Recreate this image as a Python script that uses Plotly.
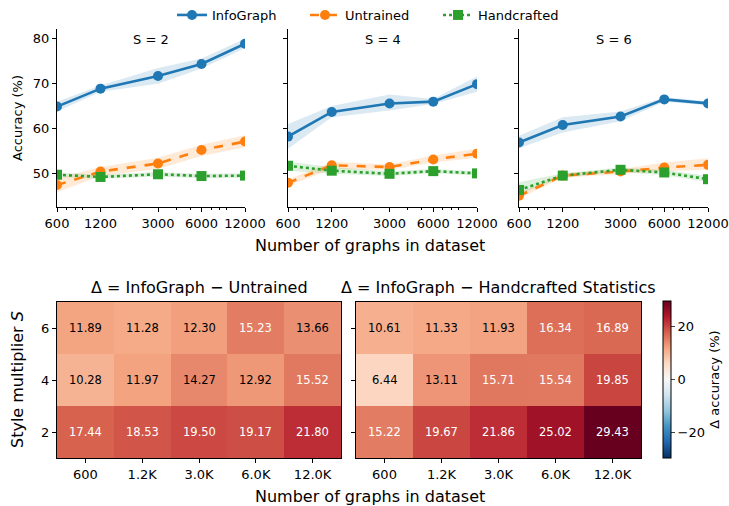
import plotly.graph_objects as go
import numpy as np

# ---------------- data ----------------
n_graphs = [600, 1200, 3000, 6000, 12000]
styles = [2, 4, 6]

# line panels: mean accuracy (%) and band (lower/upper)
info_s2 = [64.9, 68.9, 71.7, 74.4, 78.9]
info_s2_lo = [63.8, 68.2, 70.0, 73.4, 77.9]
info_s2_hi = [66.0, 69.6, 73.5, 75.6, 80.0]
untr_s2 = [47.4, 50.4, 52.2, 55.2, 57.1]
untr_s2_lo = [45.8, 49.4, 51.0, 53.9, 55.8]
untr_s2_hi = [48.9, 51.4, 53.5, 56.4, 58.5]
hand_s2 = [49.7, 49.2, 49.8, 49.4, 49.5]
hand_s2_lo = [49.2, 48.8, 49.3, 48.9, 49.0]
hand_s2_hi = [50.2, 49.7, 50.3, 49.9, 50.0]

info_s4 = [58.2, 63.7, 65.6, 66.0, 69.9]
info_s4_lo = [55.5, 62.5, 64.0, 65.5, 68.2]
info_s4_hi = [61.0, 65.0, 67.6, 66.6, 71.6]
untr_s4 = [47.9, 51.8, 51.4, 53.1, 54.4]
untr_s4_lo = [47.2, 51.0, 50.8, 52.4, 53.5]
untr_s4_hi = [48.6, 52.6, 52.0, 54.0, 55.5]
hand_s4 = [51.7, 50.6, 49.9, 50.5, 50.0]
hand_s4_lo = [50.6, 49.9, 49.4, 50.0, 49.5]
hand_s4_hi = [52.6, 51.4, 50.5, 51.0, 50.5]

info_s6 = [56.9, 60.8, 62.7, 66.5, 65.6]
info_s6_lo = [55.6, 59.1, 61.6, 66.0, 65.2]
info_s6_hi = [58.4, 62.5, 63.8, 67.0, 66.1]
untr_s6 = [45.0, 49.5, 50.4, 51.3, 51.9]
untr_s6_lo = [44.4, 49.0, 49.9, 50.5, 50.8]
untr_s6_hi = [45.6, 50.0, 51.0, 52.4, 53.4]
hand_s6 = [46.3, 49.5, 50.8, 50.2, 48.7]
hand_s6_lo = [45.4, 49.0, 50.3, 49.6, 48.1]
hand_s6_hi = [48.0, 50.0, 51.3, 50.8, 49.4]

# heatmaps: rows = S (2, 4, 6), cols = n_graphs
delta_untrained = [
    [17.44, 18.53, 19.50, 19.17, 21.80],
    [10.28, 11.97, 14.27, 12.92, 15.52],
    [11.89, 11.28, 12.30, 15.23, 13.66],
]
delta_handcrafted = [
    [15.22, 19.67, 21.86, 25.02, 29.43],
    [6.44, 13.11, 15.71, 15.54, 19.85],
    [10.61, 11.33, 11.93, 16.34, 16.89],
]
heat_xlabels = ["600", "1.2K", "3.0K", "6.0K", "12.0K"]
y_ticks_acc = [50, 60, 70, 80]
minor_ticks = [700, 800, 900, 2000, 4000, 5000, 7000, 8000, 9000]

# ---------------- styling ----------------
W, H = 729, 506
FONT = "DejaVu Sans"
C_INFO, C_UNTR, C_HAND = "#1f77b4", "#ff7f0e", "#2ca02c"
TICK = 13

def px_x(p):
    return p / W

def px_y(p):
    return 1 - p / H

def rgba(hexc, a):
    h = hexc.lstrip("#")
    r, g, b = int(h[0:2], 16), int(h[2:4], 16), int(h[4:6], 16)
    return f"rgba({r},{g},{b},{a})"

def text_at(x, y, text, size, angle=0):
    fig.add_annotation(x=px_x(x), y=px_y(y), xref="paper", yref="paper",
                       xanchor="center", yanchor="middle", text=text, showarrow=False,
                       textangle=angle, font=dict(size=size, family=FONT, color="black"))

fig = go.Figure()

panels = [
    ("S = 2", (info_s2, info_s2_lo, info_s2_hi), (untr_s2, untr_s2_lo, untr_s2_hi), (hand_s2, hand_s2_lo, hand_s2_hi)),
    ("S = 4", (info_s4, info_s4_lo, info_s4_hi), (untr_s4, untr_s4_lo, untr_s4_hi), (hand_s4, hand_s4_lo, hand_s4_hi)),
    ("S = 6", (info_s6, info_s6_lo, info_s6_hi), (untr_s6, untr_s6_lo, untr_s6_hi), (hand_s6, hand_s6_lo, hand_s6_hi)),
]
x_domains = [(57, 245), (288, 477), (519, 708)]
series_style = [
    ("InfoGraph", C_INFO, "solid", "circle"),
    ("Untrained", C_UNTR, "dash", "circle"),
    ("Handcrafted", C_HAND, "dot", "square"),
]

for i, (title, *sers) in enumerate(panels):
    xa = "x" if i == 0 else f"x{i+1}"
    ya = "y" if i == 0 else f"y{i+1}"
    for (name, col, dash, sym), (m, lo, hi) in zip(series_style, sers):
        fig.add_trace(go.Scatter(x=n_graphs + n_graphs[::-1], y=hi + lo[::-1], mode="lines",
                                 fill="toself", fillcolor=rgba(col, 0.16), line=dict(width=0),
                                 hoverinfo="skip", showlegend=False, xaxis=xa, yaxis=ya))
    for (name, col, dash, sym), (m, lo, hi) in zip(series_style, sers):
        fig.add_trace(go.Scatter(x=n_graphs, y=m, mode="lines+markers", name=name,
                                 line=dict(color=col, width=2.6, dash=dash),
                                 marker=dict(symbol=sym, size=10, color=col),
                                 showlegend=(i == 0), xaxis=xa, yaxis=ya))
    d0, d1 = x_domains[i]
    axis_common = dict(showline=True, linecolor="black", linewidth=1, ticks="outside",
                       ticklen=4, tickcolor="black", showgrid=False, zeroline=False,
                       automargin=False,
                       tickfont=dict(size=TICK, family=FONT, color="black"))
    fig.layout[("xaxis" if i == 0 else f"xaxis{i+1}")] = dict(
        domain=[px_x(d0), px_x(d1)], anchor=ya, type="log",
        range=[np.log10(600), np.log10(12000)], tickvals=n_graphs,
        ticktext=[str(v) for v in n_graphs],
        minor=dict(tickvals=minor_ticks, ticks="outside", ticklen=2, tickcolor="black"),
        **axis_common)
    fig.layout[("yaxis" if i == 0 else f"yaxis{i+1}")] = dict(
        domain=[px_y(207), px_y(29)], anchor=xa, range=[42.5, 82.2],
        tickvals=y_ticks_acc, showticklabels=(i == 0), **axis_common)
    text_at((d0 + d1) / 2, 39, title, 13)

# ---------------- heatmaps ----------------
colorscale_vals = ["#053061", "#2166ac", "#4393c3", "#92c5de", "#d1e5f0", "#f7f7f7",
                   "#fddbc7", "#f4a582", "#d6604d", "#b2182b", "#67001f"]
colorscale = [[k / 10, c] for k, c in enumerate(colorscale_vals)]
vmax = max(max(max(r) for r in delta_untrained), max(max(r) for r in delta_handcrafted))

heat_domains = [(57, 341), (356, 641)]
heat_titles = ["Δ = InfoGraph − Untrained", "Δ = InfoGraph − Handcrafted Statistics"]
for j in range(2):
    z = [delta_untrained, delta_handcrafted][j]
    k = 4 + j
    xa, ya = f"x{k}", f"y{k}"
    fig.add_trace(go.Heatmap(z=z, x=list(range(len(n_graphs))), y=list(range(len(styles))),
                             colorscale=colorscale, zmin=-vmax, zmax=vmax,
                             showscale=(j == 1), xaxis=xa, yaxis=ya, hoverinfo="skip",
                             colorbar=dict(x=px_x(663), xanchor="left", thickness=8,
                                           xpad=0, ypad=0,
                                           len=157 / H, lenmode="fraction",
                                           y=(px_y(458) + px_y(301)) / 2, yanchor="middle",
                                           outlinewidth=1, outlinecolor="black",
                                           ticks="outside", ticklen=4, tickvals=[-20, 0, 20],
                                           ticktext=["−20", "0", "20"],
                                           tickfont=dict(size=TICK, family=FONT, color="black"),
                                           title=dict(text="Δ accuracy (%)", side="right",
                                                      font=dict(size=13, family=FONT, color="black")))))
    for r, row in enumerate(z):
        for c, v in enumerate(row):
            fig.add_annotation(x=c, y=r, xref=xa, yref=ya, text=f"{v:.2f}", showarrow=False,
                               font=dict(size=11.5, family=FONT,
                                         color="white" if v > 15 else "black"))
    d0, d1 = heat_domains[j]
    box = dict(showline=True, linecolor="black", linewidth=1, mirror=True, ticks="outside",
               ticklen=4, tickcolor="black", showgrid=False, zeroline=False, automargin=False,
               tickfont=dict(size=TICK, family=FONT, color="black"))
    fig.layout[f"xaxis{k}"] = dict(domain=[px_x(d0), px_x(d1)], anchor=ya,
                                   range=[-0.5, 4.5], tickvals=list(range(5)),
                                   ticktext=heat_xlabels, **box)
    fig.layout[f"yaxis{k}"] = dict(domain=[px_y(458), px_y(302)], anchor=xa,
                                   range=[-0.5, 2.5], tickvals=list(range(3)),
                                   ticktext=[str(s) for s in styles],
                                   showticklabels=(j == 0), **box)
    text_at((d0 + d1) / 2, 287, heat_titles[j], 16)

# ---------------- axis titles ----------------
text_at(370, 245, "Number of graphs in dataset", 16)
text_at(370, 496, "Number of graphs in dataset", 16)
text_at(17, 118, "Accuracy (%)", 13, -90)
text_at(17, 380, "Style multiplier <i>S</i>", 16, -90)

fig.update_layout(
    width=W, height=H, margin=dict(l=0, r=0, t=0, b=0, pad=0, autoexpand=False),
    paper_bgcolor="white", plot_bgcolor="white",
    font=dict(family=FONT, color="black"),
    legend=dict(orientation="h", x=px_x(172), xanchor="left", y=px_y(0), yanchor="top",
                entrywidth=88, entrywidthmode="pixels",
                font=dict(size=13, family=FONT, color="black"), bgcolor="rgba(0,0,0,0)"),
)

fig.write_html("out.html", post_script="document.body.style.margin='0';",
               config={"displayModeBar": False})
